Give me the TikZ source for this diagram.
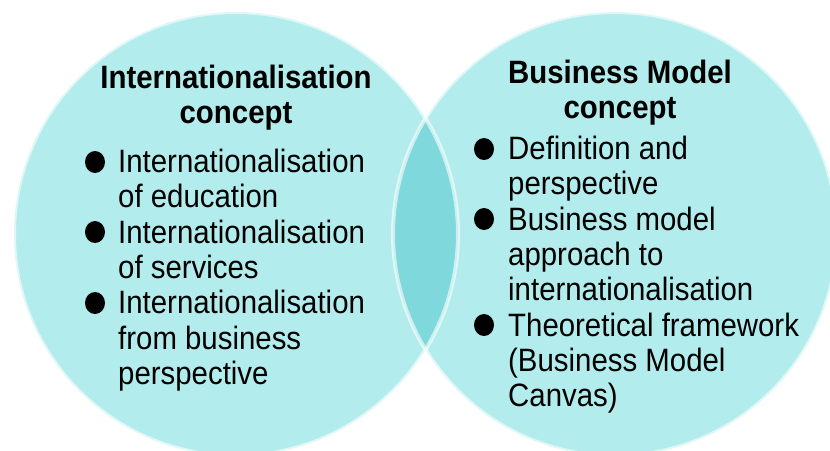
\documentclass[tikz,border=0pt]{standalone}
\usepackage{fontspec}
\setmainfont{Liberation Sans}
\definecolor{circfill}{RGB}{178,236,236}
\definecolor{lensfill}{RGB}{126,216,220}
\newcommand{\tallt}[1]{\scalebox{1}[1.1]{#1}}
\tikzset{
  circ/.style={fill=circfill},
  rim/.style={draw=white, draw opacity=0.6, line width=4pt},
  head/.style={font=\fontsize{29.4}{35}\selectfont\bfseries, anchor=base, inner sep=0pt},
  line/.style={font=\fontsize{29.4}{35}\selectfont, anchor=base west, inner sep=0pt},
  dot/.style={ellipse, fill=black, minimum width=20pt, minimum height=22pt, inner sep=0pt},
}
\usetikzlibrary{shapes.geometric}
\begin{document}
\begin{tikzpicture}[x=1pt,y=-1pt]
\useasboundingbox (0,0) rectangle (830,450);
% circles
\coordinate (cl) at (236,234);
\coordinate (cr) at (615,234);
\fill[circ] (cl) circle (222);
\fill[circ] (cr) circle (222);
\begin{scope}
  \clip (cl) circle (222);
  \fill[lensfill] (cr) circle (222);
\end{scope}
\draw[rim] (cl) circle (222);
\draw[rim] (cr) circle (222);

% left headings
\node[head] (lh1) at (236,88) {\tallt{Internationalisation}};
\node[head] (lh2) at (236,123) {\tallt{concept}};
% left items
\node[dot] (ld1) at (95,162) {};
\node[line] (l1) at (118,172) {\tallt{Internationalisation}};
\node[line] (l2) at (118,207.5) {\tallt{of education}};
\node[dot] (ld2) at (95,232) {};
\node[line] (l3) at (118,243) {\tallt{Internationalisation}};
\node[line] (l4) at (118,278) {\tallt{of services}};
\node[dot] (ld3) at (95,303) {};
\node[line] (l5) at (118,313.5) {\tallt{Internationalisation}};
\node[line] (l6) at (118,349) {\tallt{from business}};
\node[line] (l7) at (118,384) {\tallt{perspective}};

% right headings
\node[head] (rh1) at (620,83) {\tallt{Business Model}};
\node[head] (rh2) at (620,118) {\tallt{concept}};
% right items
\node[dot] (rd1) at (484,149) {};
\node[line] (r1) at (508,159) {\tallt{Definition and}};
\node[line] (r2) at (508,194.5) {\tallt{perspective}};
\node[dot] (rd2) at (484,219) {};
\node[line] (r3) at (508,230) {\tallt{Business model}};
\node[line] (r4) at (508,265) {\tallt{approach to}};
\node[line] (r5) at (508,300.5) {\tallt{internationalisation}};
\node[dot] (rd3) at (484,325) {};
\node[line] (r6) at (508,336) {\tallt{Theoretical framework}};
\node[line] (r7) at (508,371) {\tallt{(Business Model}};
\node[line] (r8) at (508,406) {\tallt{Canvas)}};
\end{tikzpicture}
\end{document}
